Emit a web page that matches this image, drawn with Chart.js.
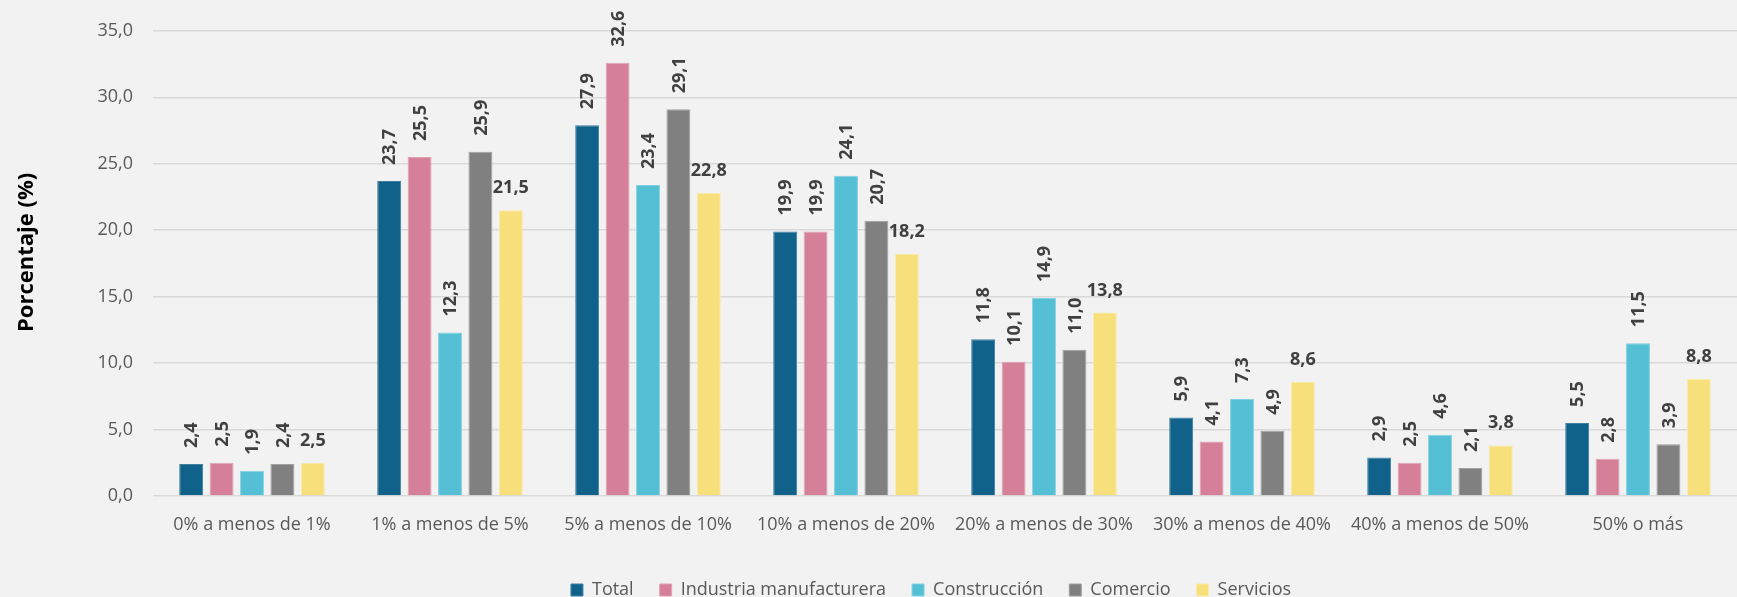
<!DOCTYPE html>
<html>
<head>
<meta charset="utf-8">
<script src="https://cdn.jsdelivr.net/npm/chart.js@4.4.1/dist/chart.umd.min.js"></script>
<style>
  html, body { margin: 0; padding: 0; background: #F2F2F2; }
  #wrap { width: 1737px; height: 597px; position: relative; }
</style>
</head>
<body>
<div id="wrap"><canvas id="c"></canvas></div>
<script>
const categories = ["0% a menos de 1%", "1% a menos de 5%", "5% a menos de 10%", "10% a menos de 20%", "20% a menos de 30%", "30% a menos de 40%", "40% a menos de 50%", "50% o más"];
const seriesNames = ["Total", "Industria manufacturera", "Construcción", "Comercio", "Servicios"];
const total = [2.4, 23.7, 27.9, 19.9, 11.8, 5.9, 2.9, 5.5];
const industria = [2.5, 25.5, 32.6, 19.9, 10.1, 4.1, 2.5, 2.8];
const construccion = [1.9, 12.3, 23.4, 24.1, 14.9, 7.3, 4.6, 11.5];
const comercio = [2.4, 25.9, 29.1, 20.7, 11.0, 4.9, 2.1, 3.9];
const servicios = [2.5, 21.5, 22.8, 18.2, 13.8, 8.6, 3.8, 8.8];
const yTicks = [0, 5, 10, 15, 20, 25, 30, 35];

const colors = ["#10628A", "#D57F99", "#55BFD6", "#808080", "#F7E07B"];
const borders = ["#3E7FA0", "#E0A2B5", "#84D0E1", "#A0A0A0", "#F9EAA5"];
const values = [total, industria, construccion, comercio, servicios];

const fmt = v => v.toFixed(1).replace('.', ',');

const labelPlugin = {
  id: 'barLabels',
  afterDatasetsDraw(chart) {
    const ctx = chart.ctx;
    ctx.save();
    ctx.fillStyle = '#404040';
    ctx.font = 'bold 18px "Open Sans"';
    chart.data.datasets.forEach((ds, di) => {
      const meta = chart.getDatasetMeta(di);
      meta.data.forEach((bar, i) => {
        const txt = fmt(ds.data[i]);
        if (di === 4) {
          ctx.textAlign = 'center';
          ctx.textBaseline = 'alphabetic';
          ctx.fillText(txt, bar.x, bar.y - 17);
        } else {
          ctx.save();
          ctx.translate(bar.x, bar.y - 16);
          ctx.rotate(-Math.PI / 2);
          ctx.textAlign = 'left';
          ctx.textBaseline = 'middle';
          ctx.fillText(txt, 0, 1);
          ctx.restore();
        }
      });
    });
    ctx.restore();
  }
};

const layoutTweak = {
  id: 'layoutTweak',
  afterLayout(chart) {
    const lg = chart.legend;
    if (lg) { lg.left += 60; lg.right += 60; }
    const y = chart.scales.y;
    if (y && !y._titleWrapped) {
      const orig = y.drawTitle;
      y.drawTitle = function () {
        const b = this.bottom;
        this.bottom = b - 22;
        orig.apply(this, arguments);
        this.bottom = b;
      };
      y._titleWrapped = true;
    }
  }
};

new Chart(document.getElementById('c'), {
  type: 'bar',
  data: {
    labels: categories,
    datasets: seriesNames.map((n, i) => ({
      label: n,
      data: values[i],
      backgroundColor: colors[i],
      borderColor: borders[i],
      borderWidth: 1,
      categoryPercentage: 0.768,
      barPercentage: 0.787
    }))
  },
  options: {
    responsive: true,
    maintainAspectRatio: false,
    animation: false,
    layout: { padding: { top: 30, right: -5, left: 0, bottom: -12 } },
    plugins: {
      legend: {
        position: 'bottom',
        labels: {
          boxWidth: 12, boxHeight: 12, padding: 26,
          color: '#595959',
          font: { family: '"Open Sans"', size: 18 }
        }
      },
      tooltip: { enabled: false }
    },
    scales: {
      x: {
        grid: { display: false },
        border: { display: false },
        ticks: { color: '#595959', font: { family: '"Open Sans"', size: 18 }, padding: 10, maxRotation: 0 },
        afterFit(s) { s.height = 59; }
      },
      y: {
        min: 0, max: 35,
        afterBuildTicks(s) { s.ticks = yTicks.map(v => ({ value: v })); },
        grid: { color: '#D9D9D9', lineWidth: 1.5, drawTicks: false },
        border: { display: false },
        ticks: { color: '#595959', font: { family: '"Open Sans"', size: 18 }, padding: 20, callback: v => fmt(v) },
        title: { display: true, text: 'Porcentaje (%)', color: '#000000', font: { family: '"Open Sans"', size: 22, weight: 'bold' }, padding: { top: 14, bottom: 0 } },
        afterFit(s) { s.width = 153; }
      }
    }
  },
  plugins: [labelPlugin, layoutTweak]
});
</script>
</body>
</html>
